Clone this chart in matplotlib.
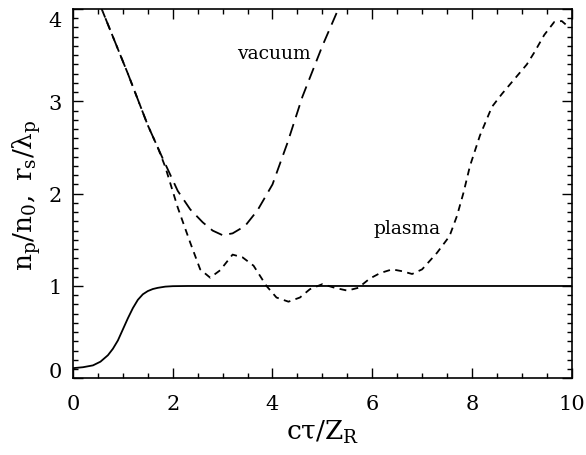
import matplotlib
matplotlib.use("Agg")
import matplotlib.pyplot as plt
from matplotlib.ticker import MultipleLocator
from matplotlib.transforms import ScaledTranslation

plt.rcParams["font.family"] = ["DejaVu Serif"]
plt.rcParams["mathtext.fontset"] = "dejavuserif"

# density profile n_p/n_0
x_density = [0, 0.2, 0.4, 0.55, 0.7, 0.8, 0.9, 1.0, 1.1, 1.2, 1.3, 1.4, 1.5, 1.6,
             1.7, 1.85, 2.0, 2.3, 10]
y_density = [0.11, 0.12, 0.14, 0.18, 0.25, 0.32, 0.41, 0.53, 0.65, 0.76, 0.85, 0.91,
             0.945, 0.967, 0.98, 0.993, 0.998, 1.0, 1.0]

# spot size in vacuum
x_vacuum = [0.5, 0.8, 1.1, 1.5, 1.8, 2.1, 2.35, 2.6, 2.8, 3.0, 3.2, 3.45, 3.7,
            4.0, 4.3, 4.6, 5.0, 5.4]
y_vacuum = [4.1, 3.7, 3.3, 2.74, 2.38, 2.03, 1.83, 1.69, 1.6, 1.55, 1.57, 1.65, 1.82,
            2.1, 2.55, 3.05, 3.6, 4.1]

# spot size in plasma
x_plasma = [0.5, 0.8, 1.1, 1.5, 1.7, 1.85, 2.1, 2.35, 2.55, 2.75, 2.95, 3.2, 3.4,
            3.62, 3.88, 4.08, 4.32, 4.55, 4.75, 5.0, 5.25, 5.5, 5.72, 5.95, 6.16,
            6.4, 6.6, 6.8, 7.0, 7.3, 7.55, 7.7, 7.83, 7.96, 8.16, 8.4, 8.6, 8.85,
            9.1, 9.25, 9.45, 9.65, 9.8, 9.95]
y_plasma = [4.1, 3.7, 3.3, 2.74, 2.5, 2.29, 1.85, 1.47, 1.18, 1.09, 1.17, 1.34, 1.31,
            1.22, 1.0, 0.875, 0.83, 0.875, 0.965, 1.02, 0.98, 0.95, 0.98, 1.08, 1.14,
            1.18, 1.16, 1.13, 1.18, 1.36, 1.54, 1.76, 2.01, 2.3, 2.63, 2.94, 3.08, 3.24,
            3.4, 3.53, 3.72, 3.86, 3.87, 3.8]

x_ticks = [0, 2, 4, 6, 8, 10]
y_ticks = [0, 1, 2, 3, 4]

fig = plt.figure(figsize=(5.86, 4.56), dpi=100)
ax = fig.add_axes([0.1246, 0.1682, 0.851, 0.8098])

lw = 1.3
ax.plot(x_density, y_density, color="black", lw=lw)
ax.plot(x_vacuum, y_vacuum, color="black", lw=lw, dashes=(7, 4))
ax.plot(x_plasma, y_plasma, color="black", lw=lw, dashes=(3.8, 3))

ax.set_xlim(0, 10)
ax.set_ylim(0, 4.0)
ax.set_xticks(x_ticks)
ax.set_yticks(y_ticks)
ax.xaxis.set_minor_locator(MultipleLocator(0.5))
ax.yaxis.set_minor_locator(MultipleLocator(0.1))
ax.tick_params(which="both", direction="in", top=True, right=True, width=1.0,
               labelsize=15)
ax.tick_params(which="major", length=7)
ax.tick_params(which="minor", length=3.5)
ax.tick_params(axis="x", pad=11)
ax.tick_params(axis="y", pad=8)
for s in ax.spines.values():
    s.set_linewidth(1.2)

ax.set_xlabel(r"$\mathrm{c\tau/Z_R}$", fontsize=19, labelpad=4)
ax.set_ylabel(r"$\mathrm{n_p/n_0,\ r_s/\lambda_p}$", fontsize=19, labelpad=4)

ax.text(4.02, 3.52, "vacuum", fontsize=13.5, ha="center", va="center")
ax.text(6.69, 1.63, "plasma", fontsize=13.5, ha="center", va="center")

# keep the end labels of the y axis inside the frame
fig.canvas.draw()
ylabels = ax.get_yticklabels()
ylabels[0].set_transform(ylabels[0].get_transform() +
                         ScaledTranslation(0, 9 / 100, fig.dpi_scale_trans))
ylabels[-1].set_transform(ylabels[-1].get_transform() +
                          ScaledTranslation(0, -9 / 100, fig.dpi_scale_trans))

fig.savefig("out.png", dpi=100)
